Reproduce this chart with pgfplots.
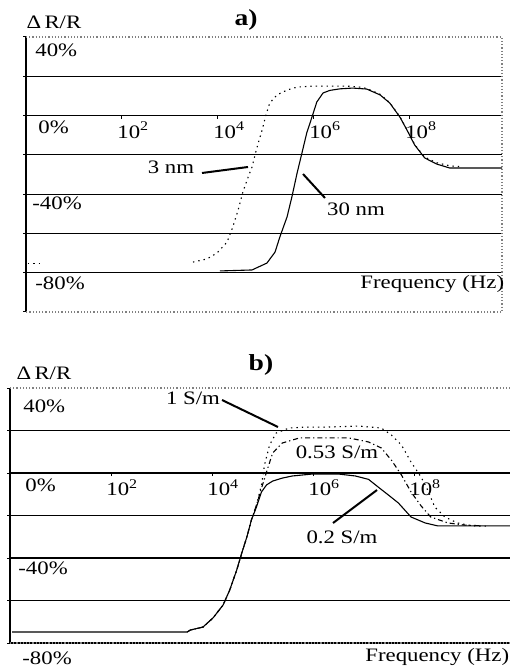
\documentclass[border=0pt]{standalone}
\usepackage{pgfplots}
\pgfplotsset{compat=1.18}
\usepackage{fontspec}
\setmainfont{Liberation Serif}[FakeStretch=1.2]
\newcommand\lbl{\fontsize{9.5}{11}\selectfont}
\newcommand\ttl{\fontsize{11.5}{13}\selectfont\bfseries}
\pgfplotsset{
  myax/.style={
    scale only axis, anchor=south west,
    axis x line=middle, axis y line=left,
    axis line style={-, black, line width=0.8pt},
    xtick={2,4,6,8},
    xticklabels={10\textsuperscript{2},10\textsuperscript{4},10\textsuperscript{6},10\textsuperscript{8}},
    xticklabel style={anchor=north west, inner sep=0pt, xshift=-2.5pt, yshift=-1.5pt, font=\lbl},
    yticklabels={},
    ymajorgrids, grid style={black, line width=0.6pt},
    major tick length=1.5pt, tick align=outside,
    tick style={black, line width=0.5pt},
    extra y tick style={grid=none},
    extra y tick labels={},
    clip=false,
  },
  c3/.style={black, line width=0.55pt, dash pattern=on 0.7pt off 2pt},
  cs/.style={black, line width=0.55pt},
  cdd/.style={black, line width=0.55pt, dash pattern=on 2.5pt off 1.5pt on 0.6pt off 1.5pt},
}
\begin{document}
\begin{tikzpicture}[x=0.5pt, y=-0.5pt, font=\lbl]
\useasboundingbox (0,0) rectangle (510,667);
\coordinate (pa) at (26,312);
\coordinate (pb) at (10,643);
% ---------------- panel a
\begin{axis}[myax, at={(pa)}, width=238pt, height=137.5pt,
  xmin=0, xmax=9.92, ymin=-100, ymax=40,
  ytick={-80,-60,...,20}, extra y ticks={40,-100}]
\draw[gray, densely dotted, line width=0.6pt] (rel axis cs:0,1) -- (rel axis cs:1,1) -- (rel axis cs:1,0) -- (rel axis cs:0,0);
\addplot[c3] coordinates {(0.04,-75.1)(0.30,-75.1)};
\addplot[c3] coordinates {
(3.48,-74.6)(3.77,-73.0)(3.98,-70.0)(4.19,-64.4)(4.31,-56.7)(4.42,-48.1)
(4.52,-38.9)(4.63,-31.3)(4.71,-26.2)(4.81,-16.5)(4.92,-7.4)(5.00,0.3)
(5.08,6.4)(5.23,10.5)(5.44,13.0)(5.65,14.5)(5.98,15.0)(6.69,15.0)
(6.95,14.5)(7.10,13.8)(7.38,10.8)(7.58,6.6)(7.79,-0.5)(7.94,-7.2)
(8.10,-14.8)(8.31,-21.2)(8.56,-24.0)(8.83,-25.6)(9.05,-26.0)};
\addplot[cs] coordinates {
(4.04,-79.1)(4.71,-78.6)(5.02,-75.1)(5.19,-69.5)(5.29,-61.8)(5.44,-51.6)
(5.54,-41.5)(5.65,-29.2)(5.75,-19.1)(5.85,-8.9)(5.96,-0.7)(6.06,6.9)
(6.19,11.5)(6.33,12.8)(6.54,13.6)(6.81,14.0)(7.10,13.5)(7.38,10.5)
(7.58,6.4)(7.79,-0.7)(7.94,-7.4)(8.10,-15.0)(8.31,-21.6)(8.56,-24.7)
(8.83,-26.7)(9.92,-26.7)};
\end{axis}
% ---------------- panel b
\begin{axis}[myax, at={(pb)}, width=250pt, height=127.5pt,
  xmin=0, xmax=9.9, ymin=-80, ymax=40,
  ytick={-80,-60,...,20}, extra y ticks={40}]
\draw[gray, densely dotted, line width=0.6pt] (rel axis cs:0,1) -- (rel axis cs:1,1);
\draw[gray, densely dotted, line width=0.6pt] (rel axis cs:0,0) -- (rel axis cs:1,0);
\addplot[cs] coordinates {
(0.04,-74.8)(3.51,-74.8)(3.57,-73.9)(3.82,-72.5)(4.02,-68.2)(4.22,-62.1)
(4.35,-55.1)(4.49,-45.6)(4.59,-37.6)(4.69,-30.1)(4.78,-22.1)
(4.88,-16.0)(4.98,-8.9)(5.08,-5.6)(5.20,-3.8)(5.39,-2.4)(5.59,-1.4)
(5.98,-0.5)(6.51,-0.5)(6.84,-1.4)(7.10,-3.0)(7.29,-6.6)(7.50,-10.5)
(7.69,-14.1)(7.94,-20.7)(8.22,-23.5)(8.47,-24.9)(9.9,-24.9)};
\addplot[c3] coordinates {
(3.51,-74.8)(3.57,-73.9)(3.82,-72.5)(4.02,-68.2)(4.22,-62.1)
(4.35,-55.1)(4.49,-45.6)(4.59,-37.6)(4.69,-30.1)(4.78,-22.1)
(4.88,-15.1)(4.98,-5.6)(5.04,3.8)(5.14,13.2)(5.27,18.8)(5.53,21.2)
(5.86,21.6)(6.25,21.6)(6.90,22.1)(7.35,21.2)(7.55,17.9)(7.75,13.2)
(7.94,5.2)(8.14,-1.9)(8.27,-8.0)(8.41,-16.0)(8.61,-20.7)(8.86,-23.5)
(9.16,-24.9)(9.5,-25.0)};
\addplot[cdd] coordinates {
(3.51,-74.8)(3.57,-73.9)(3.82,-72.5)(4.02,-68.2)(4.22,-62.1)
(4.35,-55.1)(4.49,-45.6)(4.59,-37.6)(4.69,-30.1)(4.78,-22.1)
(4.88,-15.1)(4.98,-7.1)(5.08,0.5)(5.20,9.4)(5.39,14.1)(5.73,16.5)
(6.18,16.5)(6.71,16.5)(7.10,14.6)(7.35,11.8)(7.55,6.1)(7.75,-0.9)
(7.94,-8.9)(8.14,-15.5)(8.33,-20.7)(8.67,-23.5)(9.00,-24.5)(9.3,-24.8)};
\end{axis}
% ---------------- texts panel a
\node[font=\ttl] at (246,20) {a)};
\node at (54,22) {Δ\,R/R};
\node[anchor=west, inner sep=0pt] at (360,284) {Frequency (Hz)};
\node[anchor=west, inner sep=0pt] at (35,50) {40\%};
\node[anchor=west, inner sep=0pt] at (38,127) {0\%};
\node[anchor=west, inner sep=0pt] at (32,203) {-40\%};
\node[anchor=west, inner sep=0pt] at (35,283) {-80\%};
\node at (171,167) {3 nm};
\node at (356,209) {30 nm};
\draw[line width=1pt] (202,173) -- (248,167);
\draw[line width=1pt] (303,174) -- (325,198);
% ---------------- texts panel b
\node[font=\ttl] at (261,365) {b)};
\node at (44,373) {Δ\,R/R};
\node[anchor=west, inner sep=0pt] at (365,657) {Frequency (Hz)};
\node[anchor=west, inner sep=0pt] at (23,406) {40\%};
\node[anchor=west, inner sep=0pt] at (25,485) {0\%};
\node[anchor=west, inner sep=0pt] at (18,568) {-40\%};
\node[anchor=west, inner sep=0pt] at (22,658) {-80\%};
\node at (193,398) {1 S/m};
\node at (337,452) {0.53 S/m};
\node at (342,537) {0.2 S/m};
\draw[line width=1pt] (222,400) -- (278,427);
\draw[line width=1pt] (333,523) -- (377,490);
\end{tikzpicture}
\end{document}
